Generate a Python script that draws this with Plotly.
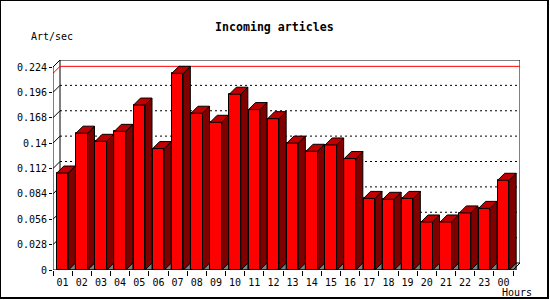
import plotly.graph_objects as go

# ---- data ----
hours = ["01", "02", "03", "04", "05", "06", "07", "08", "09", "10", "11", "12",
         "13", "14", "15", "16", "17", "18", "19", "20", "21", "22", "23", "00"]
rate = [0.107, 0.151, 0.142, 0.153, 0.182, 0.134, 0.217, 0.173, 0.163, 0.194, 0.177, 0.167,
        0.140, 0.131, 0.138, 0.123, 0.079, 0.078, 0.079, 0.053, 0.053, 0.063, 0.068, 0.099]
ytick_vals = [0, 0.028, 0.056, 0.084, 0.112, 0.14, 0.168, 0.196, 0.224]
ytick_text = ["0", "0.028", "0.056", "0.084", "0.112", "0.14", "0.168", "0.196", "0.224"]
title = "Incoming articles"
ylabel = "Art/sec"
xlabel = "Hours"

# ---- geometry (pixels -> axis units) ----
W, H = 550, 300
L, R, T, B = 53, 30, 60, 30
plot_w = W - L - R
plot_h = H - T - B
n = len(hours)
slot_px = 460 / n
depth_px = 7
dx = depth_px / slot_px
ymax_front = ytick_vals[-1]
px_per_unit = 203 / ymax_front
dy = depth_px / px_per_unit
xmax = n + dx
ymax = plot_h / px_per_unit
bw = 0.6

def pxx(px):
    return (px - L) / plot_w

def pyy(py):
    return (H - B - py) / plot_h

FRONT = "#ff0000"
SIDE = "#800000"
TOP = "#c00000"
GRAY = "#808080"

fig = go.Figure()

# gray floor shadows, side faces, top faces
gx, gy, sx, sy, tx, ty = [], [], [], [], [], []
for i, v in enumerate(rate):
    c = i + 0.5
    l, r = c - bw / 2, c + bw / 2
    gx += [r, r + dx, r + dx, r, None]
    gy += [0, dy, 0, 0, None]
    sx += [r, r + dx, r + dx, r, r, None]
    sy += [0, dy, v + dy, v, 0, None]
    tx += [l, l + dx, r + dx, r, l, None]
    ty += [v, v + dy, v + dy, v, v, None]

for xs, ys, col in [(gx, gy, GRAY), (sx, sy, SIDE), (tx, ty, TOP)]:
    fig.add_trace(go.Scatter(x=xs, y=ys, mode="lines", fill="toself", fillcolor=col,
                             line=dict(color="black", width=1), hoverinfo="skip",
                             showlegend=False))

fig.add_trace(go.Bar(x=[i + 0.5 for i in range(n)], y=rate, width=bw,
                     marker=dict(color=FRONT, line=dict(color="black", width=1)),
                     showlegend=False))

shapes = []
# back wall
shapes.append(dict(type="rect", xref="x", yref="y", x0=dx, x1=n + dx, y0=dy,
                   y1=ymax_front + dy, line=dict(color="black", width=1),
                   fillcolor="white", layer="below"))
# back gridlines and left diagonals
for v in ytick_vals[1:-1]:
    shapes.append(dict(type="line", xref="x", yref="y", x0=dx, x1=n + dx, y0=v + dy, y1=v + dy,
                       line=dict(color="black", width=1, dash="2px,3px"), layer="below"))
    shapes.append(dict(type="line", xref="x", yref="y", x0=0, x1=dx, y0=v, y1=v + dy,
                       line=dict(color="black", width=1), layer="below"))
# max line
vmax = max(rate)
shapes.append(dict(type="line", xref="x", yref="y", x0=dx, x1=n + dx, y0=vmax + dy, y1=vmax + dy,
                   line=dict(color="red", width=1), layer="below"))
shapes.append(dict(type="line", xref="x", yref="y", x0=0, x1=dx, y0=vmax, y1=vmax + dy,
                   line=dict(color="red", width=1), layer="below"))
# front axes
shapes.append(dict(type="line", xref="x", yref="y", x0=0, x1=0, y0=0, y1=ymax_front,
                   line=dict(color="black", width=1)))
shapes.append(dict(type="line", xref="x", yref="y", x0=0, x1=dx, y0=ymax_front, y1=ymax_front + dy,
                   line=dict(color="black", width=1)))
shapes.append(dict(type="line", xref="x", yref="y", x0=0, x1=n, y0=0, y1=0,
                   line=dict(color="black", width=1)))
shapes.append(dict(type="line", xref="x", yref="y", x0=n, x1=n + dx, y0=0, y1=dy,
                   line=dict(color="black", width=1)))
# image border
shapes.append(dict(type="line", xref="paper", yref="paper", x0=pxx(0.5), x1=pxx(0.5),
                   y0=pyy(0), y1=pyy(299), line=dict(color="black", width=1)))
shapes.append(dict(type="line", xref="paper", yref="paper", x0=pxx(0), x1=pxx(549),
                   y0=pyy(0.5), y1=pyy(0.5), line=dict(color="black", width=1)))
shapes.append(dict(type="line", xref="paper", yref="paper", x0=pxx(548), x1=pxx(548),
                   y0=pyy(0), y1=pyy(299), line=dict(color="black", width=2)))
shapes.append(dict(type="line", xref="paper", yref="paper", x0=pxx(0), x1=pxx(549),
                   y0=pyy(298), y1=pyy(298), line=dict(color="black", width=2)))

mono = "DejaVu Sans Mono"
annotations = [
    dict(text="<b>" + title + "</b>", xref="paper", yref="paper", x=pxx(274), y=pyy(27),
         showarrow=False, font=dict(family=mono, size=11.6, color="black"),
         xanchor="center", yanchor="middle"),
    dict(text=ylabel, xref="paper", yref="paper", x=pxx(29), y=pyy(37),
         showarrow=False, font=dict(family=mono, size=10, color="black"),
         xanchor="left", yanchor="middle"),
    dict(text=xlabel, xref="paper", yref="paper", x=pxx(534), y=pyy(292),
         showarrow=False, font=dict(family=mono, size=10, color="black"),
         xanchor="right", yanchor="middle"),
]

fig.update_layout(
    width=W, height=H, autosize=False,
    margin=dict(l=L, r=R, t=T, b=B, pad=0),
    paper_bgcolor="white", plot_bgcolor="white",
    shapes=shapes, annotations=annotations,
    font=dict(family=mono, size=10, color="black"),
    bargap=0,
    xaxis=dict(range=[0, xmax], showgrid=False, zeroline=False, showline=False,
               tickvals=[i + 0.5 for i in range(n)], ticktext=hours, ticks="",
               ticklabelstandoff=5,
               tickfont=dict(family=mono, size=10, color="black"),
               minor=dict(tickvals=list(range(n + 1)), ticks="outside", ticklen=5,
                          tickcolor="black", tickwidth=1, showgrid=False),
               fixedrange=True),
    yaxis=dict(range=[0, ymax], showgrid=False, zeroline=False, showline=False,
               tickvals=ytick_vals, ticktext=ytick_text, ticks="outside", ticklen=3,
               tickcolor="black", tickfont=dict(family=mono, size=10, color="black"),
               fixedrange=True),
)

fig.write_html("out.html")
